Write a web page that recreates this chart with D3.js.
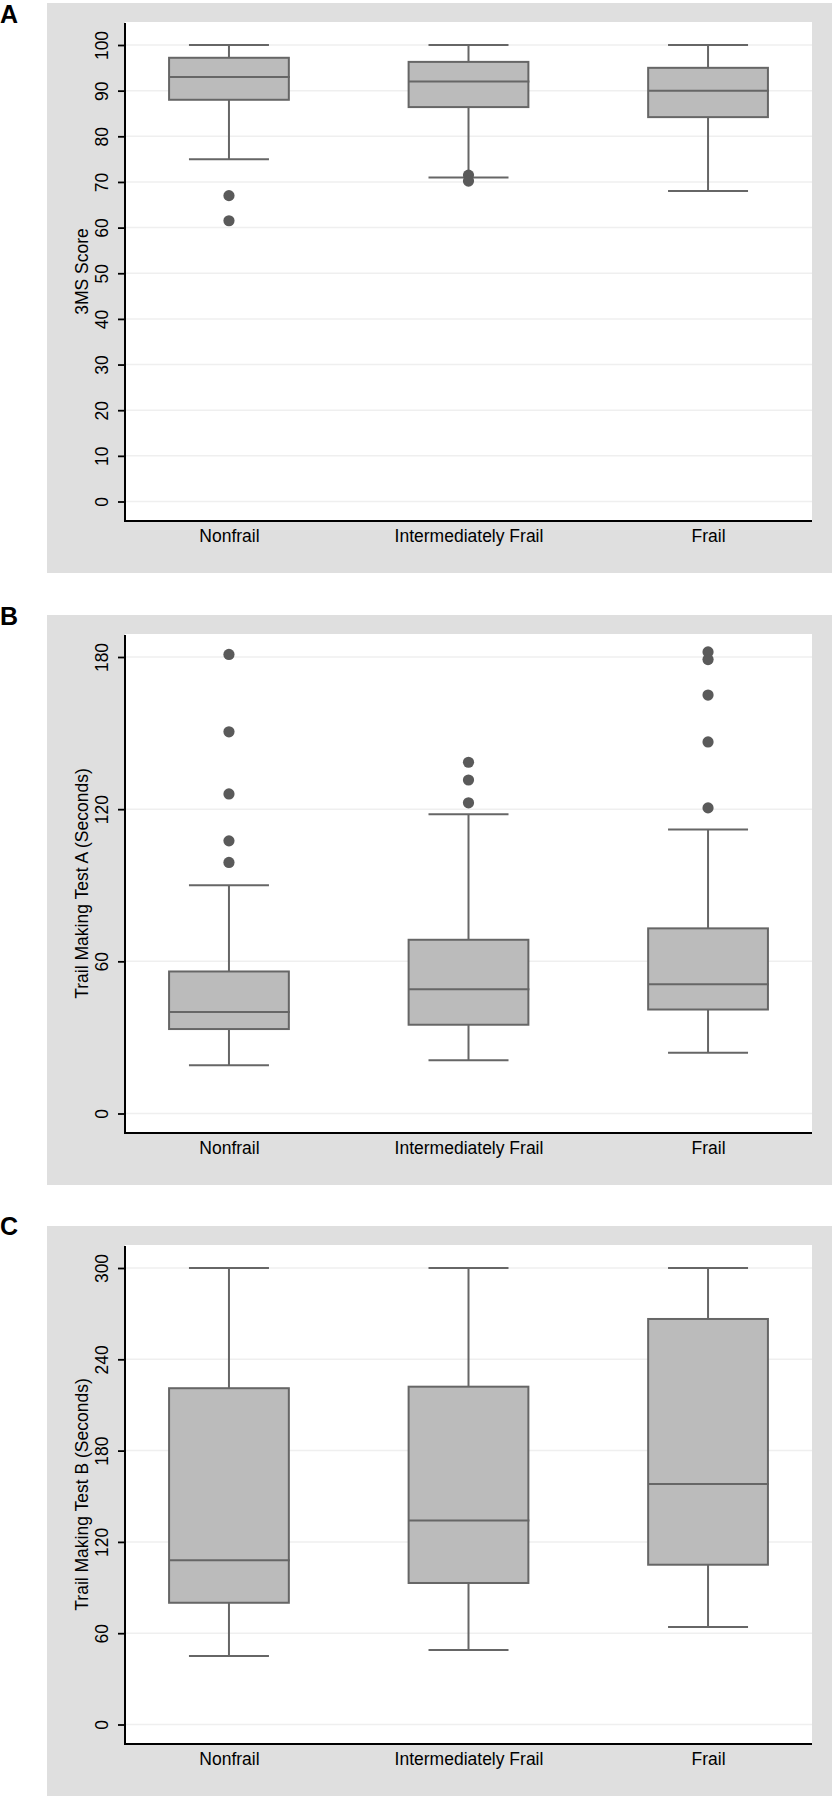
<!DOCTYPE html>
<html>
<head>
<meta charset="utf-8">
<script src="https://cdn.jsdelivr.net/npm/d3@7"></script>
<style>
  body { margin: 0; background: #fff; }
  text { font-family: "Liberation Sans", Arial, Helvetica, sans-serif; fill: #000; }
</style>
</head>
<body>
<div id="chart"></div>
<script>
// categories shared by all three panels
var categories = ["Nonfrail", "Intermediately Frail", "Frail"];

// panel A: 3MS score
var aTicks = [0, 10, 20, 30, 40, 50, 60, 70, 80, 90, 100];
var aLow = [75, 71, 68], aQ1 = [88, 86.4, 84.2], aMed = [93, 92, 90], aQ3 = [97.2, 96.3, 95], aHigh = [100, 100, 100];
var aOut = [[67, 61.5], [71.5, 70.2], []];

// panel B: trail making test A
var bTicks = [0, 60, 120, 180];
var bLow = [19, 21, 24], bQ1 = [33.3, 35, 41], bMed = [40, 49, 51], bQ3 = [56, 68.5, 73], bHigh = [90, 118, 112];
var bOut = [[181, 150.5, 126, 107.5, 99], [138.5, 131.5, 122.5], [182, 179, 165, 146.5, 120.5]];

// panel C: trail making test B
var cTicks = [0, 60, 120, 180, 240, 300];
var cLow = [45, 49, 64], cQ1 = [80, 93, 105], cMed = [108, 134, 158], cQ3 = [221, 222, 266.5], cHigh = [300, 300, 300];
var cOut = [[], [], []];

var panels = [
  { letter: "A", title: "3MS Score", ticks: aTicks, low: aLow, q1: aQ1, med: aMed, q3: aQ3, high: aHigh, out: aOut },
  { letter: "B", title: "Trail Making Test A (Seconds)", ticks: bTicks, low: bLow, q1: bQ1, med: bMed, q3: bQ3, high: bHigh, out: bOut },
  { letter: "C", title: "Trail Making Test B (Seconds)", ticks: cTicks, low: cLow, q1: cQ1, med: cMed, q3: cQ3, high: cHigh, out: cOut }
];

var W = 834, H = 1797,
    panelTop = [3, 615, 1226],
    letterY = [23, 625, 1235],
    px0 = 125, px1 = 812,               // plot region left / right
    plotTop = 19, plotBottom = 518;     // plot region within a panel

var boxCol = "#bbbbbb", lineCol = "#666666", dotCol = "#5a5a5a";

var svg = d3.select("#chart").append("svg")
    .attr("width", W)
    .attr("height", H);

var x = d3.scalePoint()
    .domain(categories)
    .range([px0, px1])
    .padding(0.434);

var step = x.step(),
    boxW = step * 0.5,
    capW = step * 0.334;

panels.forEach(function(p, k) {
  var g = svg.append("g").attr("transform", "translate(0," + panelTop[k] + ")");

  // grey graph region + white plot region
  g.append("rect").attr("x", 47).attr("y", 0).attr("width", 785).attr("height", 570).attr("fill", "#dfdfdf");
  g.append("rect").attr("x", px0).attr("y", plotTop).attr("width", px1 - px0).attr("height", plotBottom - plotTop).attr("fill", "#fff");

  svg.append("text")
      .attr("x", 0)
      .attr("y", letterY[k])
      .style("font-size", "25px")
      .style("font-weight", "bold")
      .text(p.letter);

  var y = d3.scaleLinear()
      .domain([0, d3.max(p.ticks)])
      .range([498.5, 42]);

  // grid
  g.append("g").selectAll("line")
      .data(p.ticks)
    .enter().append("line")
      .attr("x1", px0).attr("x2", px1)
      .attr("y1", function(d) { return y(d); })
      .attr("y2", function(d) { return y(d); })
      .attr("stroke", "#efefef")
      .attr("stroke-width", 1.5);

  var rows = categories.map(function(c, i) {
    return { cat: c, low: p.low[i], q1: p.q1[i], med: p.med[i], q3: p.q3[i], high: p.high[i], out: p.out[i] };
  });

  var box = g.append("g").selectAll("g")
      .data(rows)
    .enter().append("g")
      .attr("transform", function(d) { return "translate(" + x(d.cat) + ",0)"; });

  // whiskers
  box.append("line")
      .attr("x1", 0).attr("x2", 0)
      .attr("y1", function(d) { return y(d.high); })
      .attr("y2", function(d) { return y(d.q3); })
      .attr("stroke", lineCol).attr("stroke-width", 2);
  box.append("line")
      .attr("x1", 0).attr("x2", 0)
      .attr("y1", function(d) { return y(d.q1); })
      .attr("y2", function(d) { return y(d.low); })
      .attr("stroke", lineCol).attr("stroke-width", 2);
  ["high", "low"].forEach(function(key) {
    box.append("line")
        .attr("x1", -capW / 2).attr("x2", capW / 2)
        .attr("y1", function(d) { return y(d[key]); })
        .attr("y2", function(d) { return y(d[key]); })
        .attr("stroke", lineCol).attr("stroke-width", 2);
  });

  // box
  box.append("rect")
      .attr("x", -boxW / 2)
      .attr("width", boxW)
      .attr("y", function(d) { return y(d.q3); })
      .attr("height", function(d) { return y(d.q1) - y(d.q3); })
      .attr("fill", boxCol)
      .attr("stroke", lineCol)
      .attr("stroke-width", 2);
  box.append("line")
      .attr("x1", -boxW / 2).attr("x2", boxW / 2 + 1)
      .attr("y1", function(d) { return y(d.med); })
      .attr("y2", function(d) { return y(d.med); })
      .attr("stroke", lineCol).attr("stroke-width", 2);

  // outside values
  box.selectAll("circle")
      .data(function(d) { return d.out; })
    .enter().append("circle")
      .attr("cx", 0)
      .attr("cy", function(d) { return y(d); })
      .attr("r", 5.6)
      .attr("fill", dotCol);

  // y axis
  var ya = g.append("g")
      .attr("transform", "translate(" + px0 + ",0)")
      .call(d3.axisLeft(y).tickValues(p.ticks).tickSize(7).tickSizeOuter(0));
  ya.select(".domain").remove();
  ya.selectAll(".tick line").attr("stroke", "#000").attr("stroke-width", 1.8);
  ya.selectAll(".tick text")
      .attr("transform", "rotate(-90)")
      .attr("x", 0)
      .attr("y", -17)
      .attr("dy", 0)
      .attr("text-anchor", "middle")
      .style("font-size", "17.5px")
      .style("font-family", "'Liberation Sans', Arial, Helvetica, sans-serif");

  // x axis
  var xa = g.append("g")
      .attr("transform", "translate(0," + plotBottom + ")")
      .call(d3.axisBottom(x).tickSize(0).tickSizeOuter(0));
  xa.select(".domain").remove();
  xa.selectAll(".tick text")
      .attr("y", 21)
      .attr("dy", 0)
      .style("font-size", "17.5px")
      .style("font-family", "'Liberation Sans', Arial, Helvetica, sans-serif");

  // axis lines
  g.append("line").attr("x1", px0).attr("x2", px0).attr("y1", plotTop + 1).attr("y2", plotBottom + 1)
      .attr("stroke", "#000").attr("stroke-width", 2);
  g.append("line").attr("x1", px0 - 1).attr("x2", px1).attr("y1", plotBottom).attr("y2", plotBottom)
      .attr("stroke", "#000").attr("stroke-width", 2);

  // y title
  g.append("text")
      .attr("transform", "translate(88," + (plotTop + plotBottom) / 2 + ") rotate(-90)")
      .attr("text-anchor", "middle")
      .style("font-size", "17.5px")
      .text(p.title);
});
</script>
</body>
</html>
